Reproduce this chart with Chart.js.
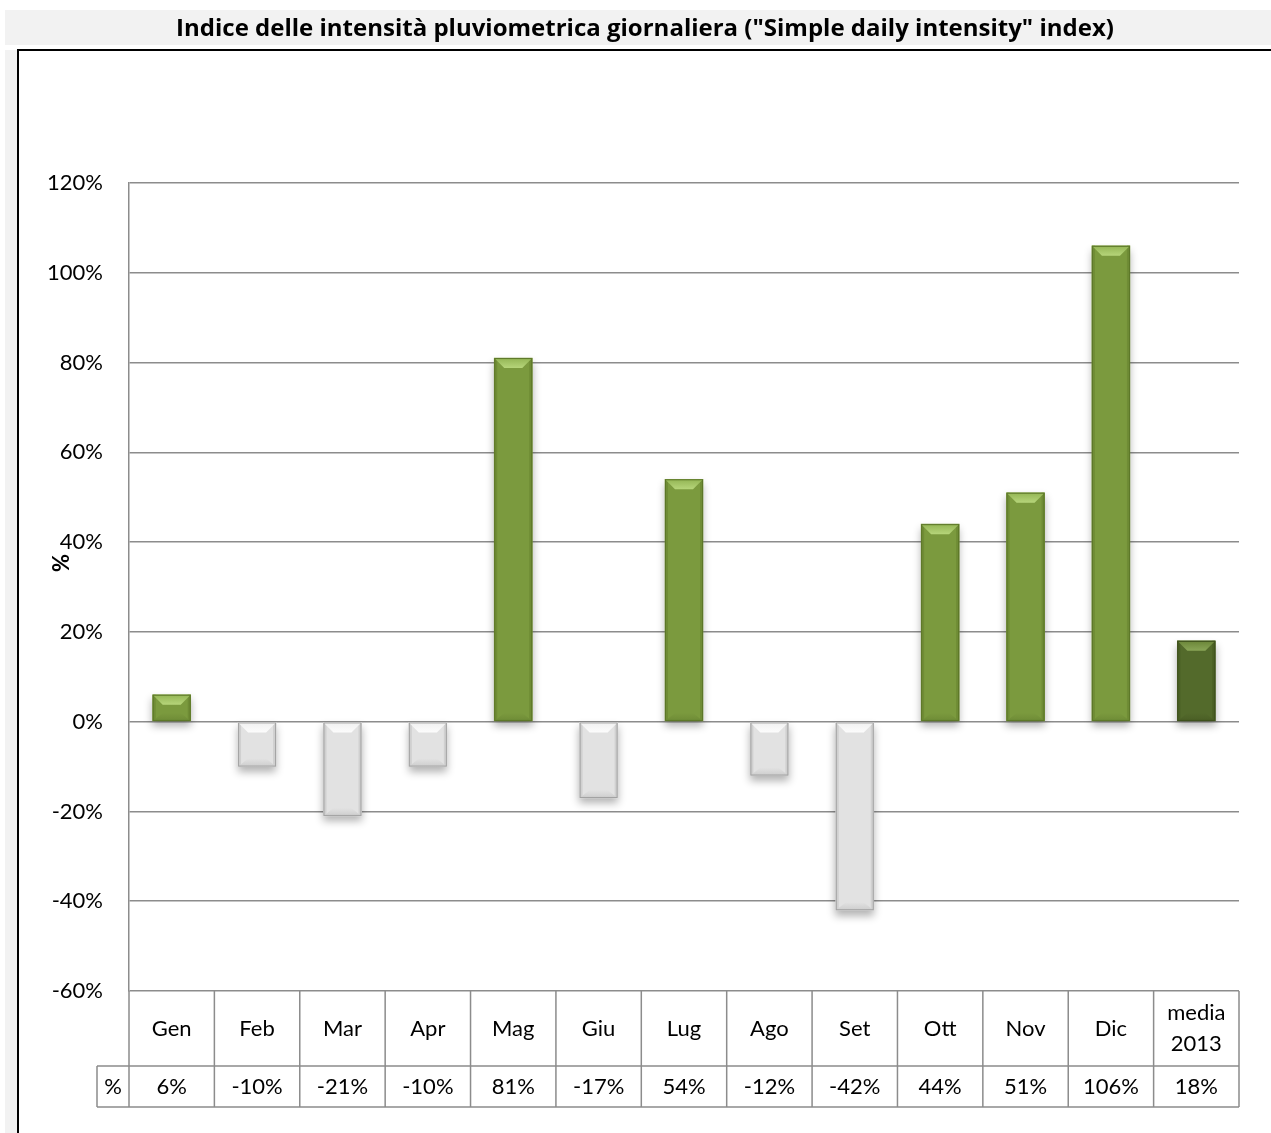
<!DOCTYPE html>
<html>
<head>
<meta charset="utf-8">
<script src="https://cdn.jsdelivr.net/npm/chart.js@4/dist/chart.umd.min.js"></script>
<style>
  html, body { margin: 0; padding: 0; background: #fff; }
  #wrap { width: 1271px; height: 1133px; }
</style>
</head>
<body>
<div id="wrap"><canvas id="chart" width="1271" height="1133"></canvas></div>
<script>
// Data
const categories = ['Gen', 'Feb', 'Mar', 'Apr', 'Mag', 'Giu', 'Lug', 'Ago', 'Set', 'Ott', 'Nov', 'Dic', ['media', '2013']];
const values = [6, -10, -21, -10, 81, -17, 54, -12, -42, 44, 51, 106, 18];
const tickValues = [-60, -40, -20, 0, 20, 40, 60, 80, 100, 120];
const chartTitle = 'Indice delle intensità pluviometrica giornaliera ("Simple daily intensity" index)';
const rowLabel = '%';

const FONT = 'Lato, "Open Sans", sans-serif';
const GRID = '#8c8c8c';

// green for positive months, gray for negative, dark green for the yearly mean
function barColor(i) {
  if (i === values.length - 1) return '#536a2b';
  return values[i] >= 0 ? '#7b9a3e' : '#e2e2e2';
}
function bevelColors(i) {
  if (i === values.length - 1) return { top1: '#6a8538', top2: '#8aa657', side: '#4a5f24', bottom: '#4a5e25', line: '#3e501c' };
  return values[i] >= 0
    ? { top1: '#93b554', top2: '#b6d57a', side: '#6f8c35', bottom: '#6e8b36', line: '#5c7628' }
    : { top1: '#f0f0f0', top2: '#fcfcfc', side: '#d0d0d0', bottom: '#cdcdcd', line: '#a2a2a2' };
}

// background, frame and title
const framePlugin = {
  id: 'frame',
  beforeDraw(chart) {
    const ctx = chart.ctx;
    ctx.save();
    ctx.fillStyle = '#f2f2f2';
    ctx.fillRect(5, 10, 1266, 35);
    ctx.fillRect(5, 50, 12, 1083);
    ctx.strokeStyle = '#000';
    ctx.lineWidth = 2;
    ctx.beginPath();
    ctx.moveTo(18, 1133);
    ctx.lineTo(18, 50);
    ctx.lineTo(1271, 50);
    ctx.stroke();
    ctx.fillStyle = '#000';
    // fit the title to the width it has in the reference
    let size = 22;
    ctx.font = 'bold ' + size + 'px "Open Sans", sans-serif';
    size = Math.min(24, size * 950 / ctx.measureText(chartTitle).width);
    ctx.font = 'bold ' + size.toFixed(1) + 'px "Open Sans", sans-serif';
    ctx.textAlign = 'center';
    ctx.textBaseline = 'middle';
    ctx.fillText(chartTitle, 645, 29);
    // y axis title
    ctx.translate(62, 563);
    ctx.rotate(-Math.PI / 2);
    ctx.font = 'bold 22px ' + FONT;
    ctx.fillText('%', 0, 0);
    ctx.restore();
  }
};

// soft shadow under bars, then bevel on each bar
const barPlugin = {
  id: 'bevel',
  beforeDatasetsDraw(chart) {
    const ctx = chart.ctx;
    ctx.save();
    ctx.shadowColor = 'rgba(0,0,0,0.3)';
    ctx.shadowBlur = 8;
    ctx.shadowOffsetY = 5;
  },
  afterDatasetsDraw(chart) {
    const ctx = chart.ctx;
    ctx.restore();
    const meta = chart.getDatasetMeta(0);
    ctx.save();
    meta.data.forEach((bar, i) => {
      const p = bar.getProps(['x', 'y', 'base', 'width'], true);
      const l = p.x - p.width / 2, r = p.x + p.width / 2;
      const t = Math.min(p.y, p.base), b = Math.max(p.y, p.base);
      const h = b - t;
      const st = Math.min(10, h / 2), sb = Math.min(8, h / 3), sw = 3;
      const c = bevelColors(i);
      const poly = (pts, col) => {
        ctx.fillStyle = col;
        ctx.beginPath();
        ctx.moveTo(pts[0][0], pts[0][1]);
        for (let k = 1; k < pts.length; k++) ctx.lineTo(pts[k][0], pts[k][1]);
        ctx.closePath();
        ctx.fill();
      };
      poly([[l, t], [l + sw, t], [l + sw, b], [l, b]], c.side);
      poly([[r, t], [r - sw, t], [r - sw, b], [r, b]], c.side);
      const gb = ctx.createLinearGradient(0, b - sb, 0, b);
      gb.addColorStop(0, barColor(i));
      gb.addColorStop(1, c.bottom);
      poly([[l, b], [l + st, b - sb], [r - st, b - sb], [r, b]], gb);
      const g = ctx.createLinearGradient(0, t, 0, t + st);
      g.addColorStop(0, c.top1);
      g.addColorStop(1, c.top2);
      poly([[l, t], [r, t], [r - st, t + st], [l + st, t + st]], g);
      ctx.strokeStyle = c.line;
      ctx.lineWidth = 1;
      ctx.strokeRect(l + 0.5, t + 0.5, p.width - 1, h - 1);
    });
    ctx.restore();
  }
};

// data table under the plot
const tablePlugin = {
  id: 'table',
  afterDraw(chart) {
    const ctx = chart.ctx;
    const xs = chart.scales.x;
    const area = chart.chartArea;
    const cw = xs.getPixelForValue(1) - xs.getPixelForValue(0);
    const top = area.bottom, mid = 1066, bot = 1107, labelLeft = 97;
    ctx.save();
    ctx.strokeStyle = GRID;
    ctx.lineWidth = 1.5;
    ctx.beginPath();
    for (let i = 0; i <= categories.length; i++) {
      const x = xs.getPixelForValue(i) - cw / 2;
      ctx.moveTo(x, top);
      ctx.lineTo(x, bot);
    }
    ctx.moveTo(labelLeft, mid);
    ctx.lineTo(area.right, mid);
    ctx.moveTo(labelLeft, bot);
    ctx.lineTo(area.right, bot);
    ctx.moveTo(labelLeft, mid);
    ctx.lineTo(labelLeft, bot);
    ctx.stroke();

    ctx.fillStyle = '#000';
    ctx.font = '22px ' + FONT;
    ctx.textAlign = 'center';
    ctx.textBaseline = 'middle';
    const hy = (top + mid) / 2, vy = (mid + bot) / 2;
    categories.forEach((c, i) => {
      const x = xs.getPixelForValue(i);
      if (Array.isArray(c)) {
        ctx.fillText(c[0], x, hy - 16);
        ctx.fillText(c[1], x, hy + 15);
      } else {
        ctx.fillText(c, x, hy);
      }
      ctx.fillText(values[i] + '%', x, vy);
    });
    ctx.fillText(rowLabel, (labelLeft + area.left) / 2, vy);
    ctx.restore();
  }
};

new Chart(document.getElementById('chart'), {
  type: 'bar',
  data: {
    labels: categories,
    datasets: [{
      data: values,
      backgroundColor: values.map((v, i) => barColor(i)),
      borderWidth: 0,
      barThickness: 38
    }]
  },
  options: {
    responsive: false,
    animation: false,
    devicePixelRatio: 1,
    layout: { padding: { left: 18, top: 183, right: 32, bottom: 142 } },
    plugins: {
      legend: { display: false },
      tooltip: { enabled: false }
    },
    scales: {
      x: { display: false },
      y: {
        min: tickValues[0],
        max: tickValues[tickValues.length - 1],
        afterFit(scale) { scale.width = 111; },
        afterBuildTicks(scale) { scale.ticks = tickValues.map(v => ({ value: v })); },
        ticks: {
          padding: 26,
          color: '#000',
          font: { family: FONT, size: 22 },
          callback: v => v + '%'
        },
        grid: { color: GRID, lineWidth: 1.5, drawTicks: false },
        border: { color: GRID, width: 1.5 }
      }
    }
  },
  plugins: [framePlugin, barPlugin, tablePlugin]
});
</script>
</body>
</html>
